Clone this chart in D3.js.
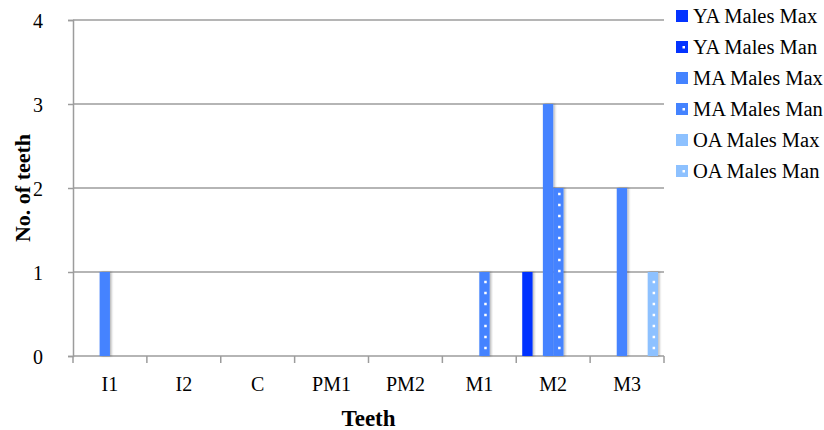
<!DOCTYPE html>
<html><head><meta charset="utf-8">
<script src="https://cdn.jsdelivr.net/npm/d3@7"></script>
<style>
body{margin:0;background:#fff;}
text{font-family:"Liberation Serif","DejaVu Serif",serif;fill:#000;}
</style></head>
<body><svg id="c" width="824" height="430"></svg>
<script>
const categories = ["I1","I2","C","PM1","PM2","M1","M2","M3"];
const seriesNames = ["YA Males Max","YA Males Man","MA Males Max","MA Males Man","OA Males Max","OA Males Man"];
const yaMax = [0,0,0,0,0,0,1,0];
const yaMan = [0,0,0,0,0,0,0,0];
const maMax = [1,0,0,0,0,0,3,2];
const maMan = [0,0,0,0,0,1,2,0];
const oaMax = [0,0,0,0,0,0,0,0];
const oaMan = [0,0,0,0,0,0,0,1];
const yTicks = [0,1,2,3,4];

const seriesValues = [yaMax,yaMan,maMax,maMan,oaMax,oaMan];
const colors = ["#0433FF","#0433FF","#4483FF","#4483FF","#8DC1FF","#8DC1FF"];
const dotted = [false,true,false,true,false,true];

const svg = d3.select("#c");
const L=73,R=664,T=20,B=356;
const defs = svg.append("defs");
const f = defs.append("filter").attr("id","sh").attr("x","-30%").attr("width","160%");
f.append("feDropShadow").attr("dx",1.5).attr("dy",0).attr("stdDeviation",1).attr("flood-color","#000").attr("flood-opacity",0.3);

const x0 = d3.scaleBand().domain(categories).range([L,R]).paddingInner(0).paddingOuter(0);
const x1 = d3.scaleBand().domain(d3.range(seriesNames.length)).range([0,x0.bandwidth()]).paddingInner(0).paddingOuter(0.58);
const y = d3.scaleLinear().domain([0,4]).range([B,T]);

// gridlines
svg.append("g").selectAll("line").data(yTicks).join("line")
  .attr("x1",L).attr("x2",R).attr("y1",d=>y(d)).attr("y2",d=>y(d))
  .attr("stroke","#9c9c9c").attr("stroke-width",1.5);

// y axis
const ya = svg.append("g").attr("transform",`translate(${L},0)`)
  .call(d3.axisLeft(y).tickValues(yTicks).tickSize(5).tickPadding(25).tickFormat(d3.format("d")));
ya.select(".domain").attr("stroke","#9c9c9c").attr("stroke-width",1.5);
ya.selectAll(".tick line").attr("stroke","#9c9c9c").attr("stroke-width",1.5);
ya.selectAll("text").style("font-size","20px").attr("dy","0.35em");

// x axis
const xa = svg.append("g").attr("transform",`translate(0,${B})`)
  .call(d3.axisBottom(x0).tickSize(0).tickPadding(21));
xa.select(".domain").remove();
xa.selectAll("text").style("font-size","20px").attr("dy","0.71em");
const bounds = categories.map(c=>x0(c)).concat([R]);
xa.selectAll(".bt").data(bounds).join("line").attr("class","bt")
  .attr("x1",d=>d).attr("x2",d=>d).attr("y1",0).attr("y2",7)
  .attr("stroke","#9c9c9c").attr("stroke-width",1.5);

// bars
seriesNames.forEach((s,si)=>{
  const g = svg.append("g");
  const data = categories.map((c,ci)=>({c,v:seriesValues[si][ci]})).filter(d=>d.v>0);
  g.selectAll("rect").data(data).join("rect")
    .attr("x",d=>x0(d.c)+x1(si)).attr("width",x1.bandwidth())
    .attr("y",d=>y(d.v)).attr("height",d=>y(0)-y(d.v))
    .attr("fill",colors[si]).attr("filter","url(#sh)");
  if(dotted[si]){
    data.forEach(d=>{
      const cx = x0(d.c)+x1(si)+x1.bandwidth()/2+1;
      const top = y(d.v);
      const ys = d3.range(B-8, top+2, -11);
      g.selectAll(null).data(ys).join("rect")
        .attr("x",cx-1.25).attr("y",v=>v-1.25).attr("width",2.5).attr("height",2.5).attr("fill","#fff");
    });
  }
});

// axis titles
svg.append("text").attr("x",(L+R)/2).attr("y",426).attr("text-anchor","middle")
  .style("font-size","23px").style("font-weight","bold").text("Teeth");
svg.append("text").attr("transform",`translate(30,${(T+B)/2}) rotate(-90)`).attr("text-anchor","middle")
  .style("font-size","22px").style("font-weight","bold").text("No. of teeth");

// legend
const lg = svg.append("g").attr("transform","translate(676,10)");
const items = lg.selectAll("g").data(seriesNames).join("g").attr("transform",(d,i)=>`translate(0,${i*31})`);
items.append("rect").attr("width",12).attr("height",12).attr("fill",(d,i)=>colors[i]);
items.filter((d,i)=>dotted[i]).append("rect").attr("x",6.5).attr("y",5).attr("width",2.5).attr("height",2.5).attr("fill","#fff");
items.append("text").attr("x",17).attr("y",6).attr("dy","0.35em").style("font-size","20.5px").text(d=>d);
</script></body></html>
